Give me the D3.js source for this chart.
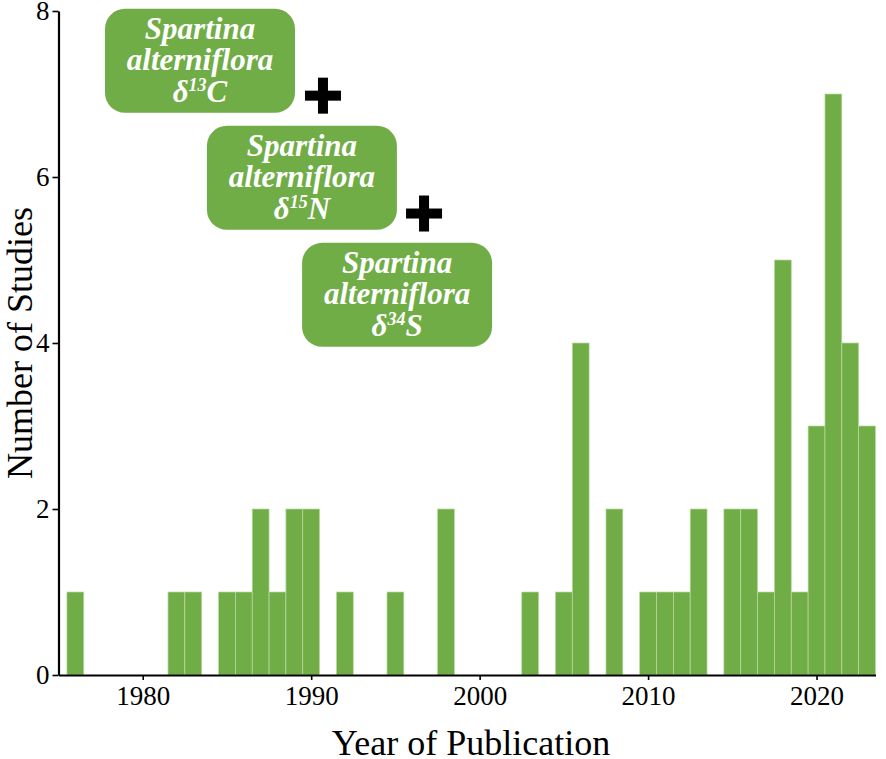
<!DOCTYPE html>
<html>
<head>
<meta charset="utf-8">
<script src="https://d3js.org/d3.v7.min.js"></script>
<style>
  body { margin: 0; background: #fff; }
  svg { display: block; }
  text { font-family: "Liberation Serif", "Times New Roman", serif; }
</style>
</head>
<body>
<svg id="chart" width="886" height="759"></svg>
<script>
// publication years and the number of studies in each
var years  = [1976, 1982, 1983, 1985, 1986, 1987, 1988, 1989, 1990, 1992, 1995, 1998,
              2003, 2005, 2006, 2008, 2010, 2011, 2012, 2013, 2015, 2016, 2017, 2018,
              2019, 2020, 2021, 2022, 2023];
var counts = [1, 1, 1, 1, 1, 2, 1, 2, 2, 1, 1, 2,
              1, 1, 4, 2, 1, 1, 1, 2, 2, 2, 1, 5,
              1, 3, 7, 4, 3];
var xTicks = [1980, 1990, 2000, 2010, 2020];
var yTicks = [0, 2, 4, 6, 8];

// annotation boxes (isotope labels) and the plus signs between them
var boxIsotopes = ["13", "15", "34"];
var boxElements = ["C", "N", "S"];
var boxYear  = [1983.4, 1989.45, 1995.1];
var boxCount = [7.4, 5.99, 4.58];
var plusYear  = [1990.7, 1996.7];
var plusCount = [6.98, 5.56];

var green = "#70ad47";

var svg = d3.select("#chart");

var x = d3.scaleLinear()
    .domain([1975, 2023.5])
    .range([58.5, 875.5]);

var y = d3.scaleLinear()
    .domain([0, 8])
    .range([675, 11]);

// bars, one year wide
svg.append("g")
    .selectAll("rect")
    .data(years)
    .enter().append("rect")
    .attr("x", function (d) { return x(d - 0.5); })
    .attr("width", function (d) { return x(d + 0.5) - x(d - 0.5); })
    .attr("y", function (d, i) { return y(counts[i]); })
    .attr("height", function (d, i) { return y(0) - y(counts[i]); })
    .attr("fill", green)
    .attr("stroke", "#b9dba3")
    .attr("stroke-width", 0.7);

// axes
var xAxis = svg.append("g")
    .attr("transform", "translate(0," + y(0) + ")")
    .call(d3.axisBottom(x).tickValues(xTicks).tickFormat(d3.format("d"))
        .tickSize(5).tickSizeOuter(0).tickPadding(6));

var yAxis = svg.append("g")
    .attr("transform", "translate(" + x.range()[0] + ",0)")
    .call(d3.axisLeft(y).tickValues(yTicks).tickSize(6).tickSizeOuter(0).tickPadding(3));

[xAxis, yAxis].forEach(function (a) {
    a.select(".domain").attr("stroke", "#000").attr("stroke-width", 2.2);
    a.selectAll(".tick line").attr("stroke", "#000").attr("stroke-width", 1.6);
    a.selectAll(".tick text")
        .attr("fill", "#000")
        .style("font-family", "'Liberation Serif', 'Times New Roman', serif")
        .style("font-size", "27px");
});

// axis titles
svg.append("text")
    .attr("x", 471)
    .attr("y", 755)
    .attr("text-anchor", "middle")
    .style("font-size", "36px")
    .text("Year of Publication");

svg.append("text")
    .attr("transform", "translate(32,343) rotate(-90)")
    .attr("text-anchor", "middle")
    .style("font-size", "36px")
    .text("Number of Studies");

// label boxes
var boxW = 190, boxH = 104;
var boxes = svg.append("g")
    .selectAll("g")
    .data(boxIsotopes)
    .enter().append("g")
    .attr("transform", function (d, i) {
        return "translate(" + x(boxYear[i]) + "," + y(boxCount[i]) + ")";
    });

boxes.append("rect")
    .attr("x", -boxW / 2)
    .attr("y", -boxH / 2)
    .attr("width", boxW)
    .attr("height", boxH)
    .attr("rx", 20)
    .attr("fill", green);

var labelStyle = function (t) {
    t.attr("text-anchor", "middle")
        .attr("fill", "#fff")
        .style("font-family", "'Liberation Serif', 'Times New Roman', serif")
        .style("font-size", "31px")
        .style("font-weight", "bold")
        .style("font-style", "italic");
};

boxes.append("text").call(labelStyle).attr("y", -22).text("Spartina");
boxes.append("text").call(labelStyle).attr("y", 9.5).text("alterniflora");

var iso = boxes.append("text").call(labelStyle).attr("y", 41);
iso.append("tspan").text("δ");
iso.append("tspan")
    .attr("dy", -11)
    .style("font-size", "18px")
    .text(function (d) { return d; });
iso.append("tspan")
    .attr("dy", 11)
    .text(function (d, i) { return boxElements[i]; });

// plus signs
var plusSize = 36, plusThick = 10;
var plus = svg.append("g")
    .selectAll("g")
    .data(plusYear)
    .enter().append("g")
    .attr("transform", function (d, i) {
        return "translate(" + x(d) + "," + y(plusCount[i]) + ")";
    });

plus.append("rect")
    .attr("x", -plusSize / 2).attr("y", -plusThick / 2)
    .attr("width", plusSize).attr("height", plusThick)
    .attr("fill", "#000");
plus.append("rect")
    .attr("x", -plusThick / 2).attr("y", -plusSize / 2)
    .attr("width", plusThick).attr("height", plusSize)
    .attr("fill", "#000");
</script>
</body>
</html>
